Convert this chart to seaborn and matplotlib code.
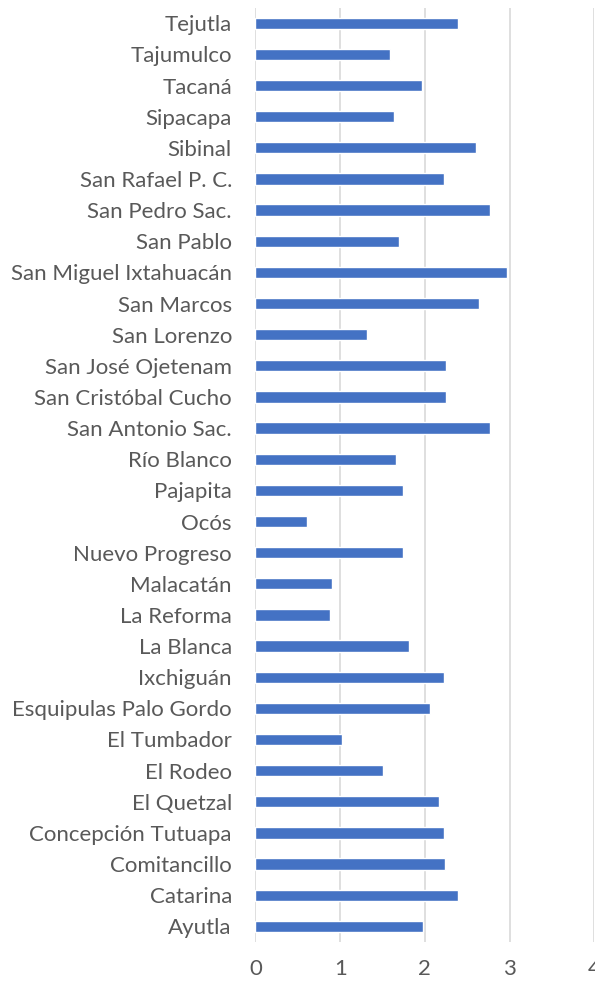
import matplotlib
matplotlib.use('Agg')
import matplotlib.pyplot as plt
import seaborn as sns
import pandas as pd

# ─── Data (top to bottom) ─────────────────────────────────────────────────────
municipios = [
    'Tejutla', 'Tajumulco', 'Tacaná', 'Sipacapa', 'Sibinal',
    'San Rafael P. C.', 'San Pedro Sac.', 'San Pablo', 'San Miguel Ixtahuacán',
    'San Marcos', 'San Lorenzo', 'San José Ojetenam', 'San Cristóbal Cucho',
    'San Antonio Sac.', 'Río Blanco', 'Pajapita', 'Ocós', 'Nuevo Progreso',
    'Malacatán', 'La Reforma', 'La Blanca', 'Ixchiguán',
    'Esquipulas Palo Gordo', 'El Tumbador', 'El Rodeo', 'El Quetzal',
    'Concepción Tutuapa', 'Comitancillo', 'Catarina', 'Ayutla',
]
valores = [
    2.39, 1.59, 1.97, 1.63, 2.60,
    2.22, 2.77, 1.69, 2.97,
    2.64, 1.32, 2.25, 2.25,
    2.77, 1.66, 1.74, 0.61, 1.74,
    0.90, 0.88, 1.81, 2.22,
    2.06, 1.02, 1.51, 2.17,
    2.23, 2.24, 2.39, 1.98,
]
x_ticks = [0, 1, 2, 3, 4]

BAR = '#4472C4'
GRID = '#D9D9D9'
TXT = '#595959'

df = pd.DataFrame({'municipio': municipios, 'valor': valores})

sns.set_style('white')
plt.rcParams['font.family'] = ['Lato', 'DejaVu Sans']

fig = plt.figure(figsize=(5.95, 9.83), dpi=100)
ax = fig.add_axes([0.4294, 0.0418, 0.5694, 0.9504])

sns.barplot(data=df, x='valor', y='municipio', orient='h', color=BAR,
            width=0.36, saturation=1, ax=ax)

ax.set_xlim(0, 4)
ax.set_ylim(len(municipios) - 0.5, -0.5)
ax.set_xticks(x_ticks)
ax.set_xticklabels([str(t) for t in x_ticks])
ax.grid(axis='x', color=GRID, linewidth=1.2)
ax.set_axisbelow(True)
for s in ax.spines.values():
    s.set_visible(False)
ax.tick_params(axis='both', length=0, colors=TXT, labelsize=16)
ax.tick_params(axis='y', pad=17)
ax.tick_params(axis='x', pad=12)
ax.set_xlabel('')
ax.set_ylabel('')

fig.savefig('out.png', dpi=100)
